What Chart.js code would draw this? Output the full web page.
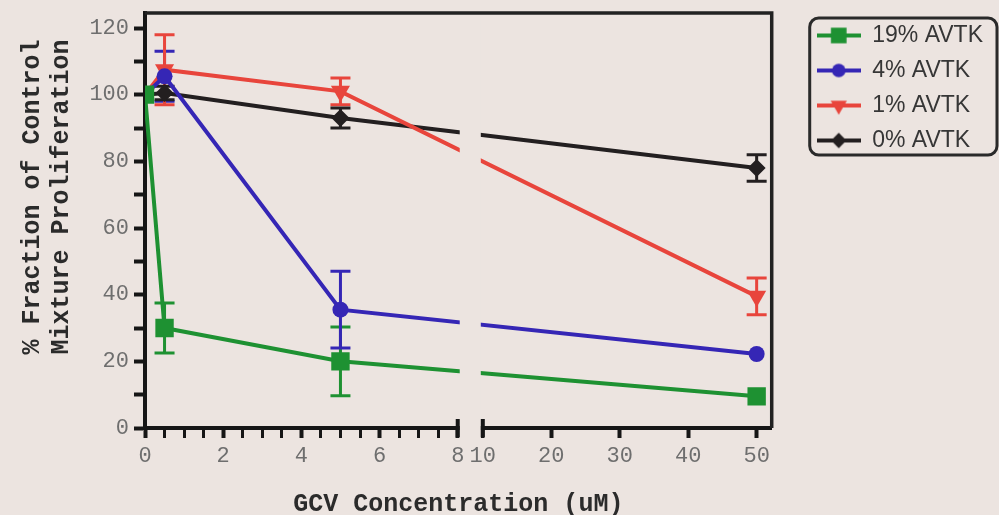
<!DOCTYPE html>
<html>
<head>
<meta charset="utf-8">
<script src="https://cdn.jsdelivr.net/npm/chart.js@4.4.1/dist/chart.umd.min.js"></script>
<style>
  html, body { margin: 0; padding: 0; background: #ece4e0; }
  #wrap { width: 999px; height: 515px; position: relative; }
</style>
</head>
<body>
<div id="wrap"><canvas id="myChart"></canvas></div>
<script>
// GCV 농도 (uM)
const concentrations = [0, 0.5, 5, 50];
const seriesLabels = ["19% AVTK", "4% AVTK", "1% AVTK", "0% AVTK"];

// 각 시리즈 값과 오차
const avtk19 = [100, 30, 20, 9.5];
const avtk19Err = [0, 7.5, 10.3, 0];
const avtk4 = [100, 105.5, 35.5, 22.2];
const avtk4Err = [0, 7.5, 11.5, 0];
const avtk1 = [100, 107.5, 101, 39.5];
const avtk1Err = [0, 10.5, 4, 5.5];
const avtk0 = [100, 100.5, 93, 78];
const avtk0Err = [0, 2, 3, 4];

// 축 눈금
const xLabels = [0, 2, 4, 6, 8, 10, 20, 30, 40, 50];
const yTickValues = [0, 10, 20, 30, 40, 50, 60, 70, 80, 90, 100, 110, 120];
const yLabels = [0, 20, 40, 60, 80, 100, 120];

const BG = "#ece4e0";
const AXIS = "#161616";
const colors = ["#1e9132", "#3526b5", "#e8453c", "#231f20"];
const shapes = ["rect", "circle", "triangle", "rectRot"];
const radii = [13, 8, 11, 9];
const rotations = [0, 0, 180, 0];
const values = [avtk19, avtk4, avtk1, avtk0];
const errors = [avtk19Err, avtk4Err, avtk1Err, avtk0Err];

// 0~8 구간 작은 눈금 포함
const xTickValues = [];
for (let v = 0; v <= 8; v += 0.5) xTickValues.push(v);
xTickValues.push(10, 20, 30, 40, 50);

// 끊어진 x축 (0-8 | 10-50)
const BREAK_LO = 8, BREAK_HI = 10;
const LEFT_PART = 0.499, GAP_PART = 0.04;
class BrokenScale extends Chart.LinearScale {
  getPixelForValue(value) {
    let f;
    if (value <= BREAK_LO) f = (value / BREAK_LO) * LEFT_PART;
    else if (value < BREAK_HI) f = LEFT_PART + ((value - BREAK_LO) / (BREAK_HI - BREAK_LO)) * GAP_PART;
    else f = LEFT_PART + GAP_PART + ((value - BREAK_HI) / (this.max - BREAK_HI)) * (1 - LEFT_PART - GAP_PART);
    return this.left + f * this.width;
  }
  getValueForPixel(pixel) {
    const f = (pixel - this.left) / this.width;
    if (f <= LEFT_PART) return (f / LEFT_PART) * BREAK_LO;
    if (f < LEFT_PART + GAP_PART) return BREAK_LO + ((f - LEFT_PART) / GAP_PART) * (BREAK_HI - BREAK_LO);
    return BREAK_HI + ((f - LEFT_PART - GAP_PART) / (1 - LEFT_PART - GAP_PART)) * (this.max - BREAK_HI);
  }
}
BrokenScale.id = "broken";
BrokenScale.defaults = Chart.LinearScale.defaults;
Chart.register(BrokenScale);

// 범례 아이콘 (선 + 마커)
function makeIcon(i) {
  const c = document.createElement("canvas");
  c.width = 44;
  c.height = 22;
  const g = c.getContext("2d");
  g.strokeStyle = colors[i];
  g.lineWidth = 4;
  g.beginPath();
  g.moveTo(0, 11);
  g.lineTo(44, 11);
  g.stroke();
  g.fillStyle = colors[i];
  Chart.helpers.drawPoint(g, { pointStyle: shapes[i], radius: radii[i] * 0.85, rotation: rotations[i], borderWidth: 0 }, 22, 11);
  return c;
}
const icons = colors.map((c, i) => makeIcon(i));

// 오차 막대
const errorBars = {
  id: "errorBars",
  beforeDatasetsDraw(chart) {
    const { ctx, scales } = chart;
    ctx.save();
    ctx.lineWidth = 3;
    values.forEach((vals, i) => {
      ctx.strokeStyle = colors[i];
      vals.forEach((v, j) => {
        const e = errors[i][j];
        if (!e) return;
        const x = scales.x.getPixelForValue(concentrations[j]);
        const yt = scales.y.getPixelForValue(v + e);
        const yb = scales.y.getPixelForValue(v - e);
        ctx.beginPath();
        ctx.moveTo(x, yt);
        ctx.lineTo(x, yb);
        ctx.moveTo(x - 10, yt);
        ctx.lineTo(x + 10, yt);
        ctx.moveTo(x - 10, yb);
        ctx.lineTo(x + 10, yb);
        ctx.stroke();
      });
    });
    ctx.restore();
  },
};

// 축 끊김 표시 + 위/오른쪽 테두리
const frame = {
  id: "frame",
  afterDatasetsDraw(chart) {
    const { ctx, chartArea: a, scales } = chart;
    const p8 = scales.x.getPixelForValue(BREAK_LO);
    const p10 = scales.x.getPixelForValue(BREAK_HI);
    ctx.save();
    ctx.fillStyle = BG;
    ctx.fillRect(p8 + 2, a.top + 4, p10 - p8 - 4, a.bottom - a.top + 6);
    ctx.strokeStyle = AXIS;
    ctx.lineWidth = 4;
    [p8, p10].forEach((p) => {
      ctx.beginPath();
      ctx.moveTo(p, a.bottom - 9);
      ctx.lineTo(p, a.bottom + 9);
      ctx.stroke();
    });
    ctx.lineWidth = 3.5;
    ctx.strokeStyle = "#222";
    ctx.beginPath();
    ctx.moveTo(a.left, a.top);
    ctx.lineTo(a.right, a.top);
    ctx.lineTo(a.right, a.bottom);
    ctx.stroke();
    ctx.restore();
  },
  afterDraw(chart) {
    const { ctx } = chart;
    const L = chart.legend;
    ctx.save();
    // 범례 테두리
    ctx.strokeStyle = "#2a2a2a";
    ctx.lineWidth = 3;
    ctx.beginPath();
    ctx.roundRect(L.left + 5, L.top + 6, 997 - (L.left + 5), 137, 9);
    ctx.stroke();
    // y축 제목 (두 줄)
    ctx.fillStyle = "#2b2b2b";
    ctx.font = 'bold 25px "Liberation Mono"';
    ctx.textAlign = "center";
    ctx.textBaseline = "middle";
    ctx.translate(33, 197);
    ctx.rotate(-Math.PI / 2);
    ctx.fillText("% Fraction of Control", 0, 0);
    ctx.fillText("Mixture Proliferation", 0, 29);
    ctx.restore();
  },
};

const tickFont = { family: "Liberation Mono", size: 22 };

new Chart(document.getElementById("myChart"), {
  type: "line",
  data: {
    datasets: values.map((vals, i) => ({
      label: seriesLabels[i],
      data: concentrations.map((x, j) => ({ x: x, y: vals[j] })),
      borderColor: colors[i],
      backgroundColor: colors[i],
      borderWidth: 4,
      pointStyle: shapes[i],
      pointRadius: radii[i],
      pointRotation: rotations[i],
      pointBorderWidth: 0,
      tension: 0,
      xAxisID: "x",
      yAxisID: "y",
    })),
  },
  options: {
    responsive: true,
    maintainAspectRatio: false,
    animation: false,
    layout: { padding: { left: 85, top: 12, right: 6, bottom: 0 } },
    plugins: {
      tooltip: { enabled: false },
      legend: {
        position: "right",
        align: "start",
        maxWidth: 260,
        labels: {
          usePointStyle: true,
          pointStyleWidth: 44,
          padding: 12,
          color: "#363636",
          font: { family: "Liberation Sans", size: 23 },
          generateLabels(chart) {
            const items = Chart.defaults.plugins.legend.labels.generateLabels(chart);
            items.forEach((it, i) => {
              it.pointStyle = icons[i];
              it.rotation = 0;
            });
            return items;
          },
        },
      },
    },
    scales: {
      x: {
        type: "broken",
        min: 0,
        max: 52.2,
        afterBuildTicks: (s) => {
          s.ticks = xTickValues.map((v) => ({ value: v }));
        },
        afterFit: (s) => {
          s.height = 87;
          s.paddingLeft = 0;
          s.paddingRight = 0;
        },
        border: { color: AXIS, width: 4 },
        grid: {
          drawOnChartArea: false,
          tickLength: 10,
          tickColor: AXIS,
          tickWidth: (c) => (c.tick && xLabels.includes(c.tick.value) ? 4 : 3),
        },
        ticks: {
          autoSkip: false,
          maxRotation: 0,
          padding: 5,
          color: "#6e6e6e",
          font: tickFont,
          callback: (v) => (xLabels.includes(v) ? String(v) : ""),
        },
        title: {
          display: true,
          text: "GCV Concentration (uM)",
          color: "#2b2b2b",
          font: { family: "Liberation Mono", size: 25, weight: "bold", lineHeight: 1 },
          padding: { top: 0, bottom: -2 },
        },
      },
      y: {
        min: 0,
        max: 124.5,
        afterBuildTicks: (s) => {
          s.ticks = yTickValues.map((v) => ({ value: v }));
        },
        afterFit: (s) => {
          s.width = 60;
          s.paddingTop = 0;
          s.paddingBottom = 0;
        },
        border: { color: AXIS, width: 4 },
        grid: { drawOnChartArea: false, tickLength: 11, tickColor: AXIS, tickWidth: 4 },
        ticks: {
          padding: 5,
          color: "#6e6e6e",
          font: tickFont,
          callback: (v) => (yLabels.includes(v) ? String(v) : ""),
        },
      },
      // 범례와 플롯 사이 여백용
      yR: {
        position: "right",
        grid: { display: false },
        ticks: { display: false },
        border: { display: false },
        afterFit: (s) => {
          s.width = 33;
        },
      },
    },
  },
  plugins: [errorBars, frame],
});
</script>
</body>
</html>
